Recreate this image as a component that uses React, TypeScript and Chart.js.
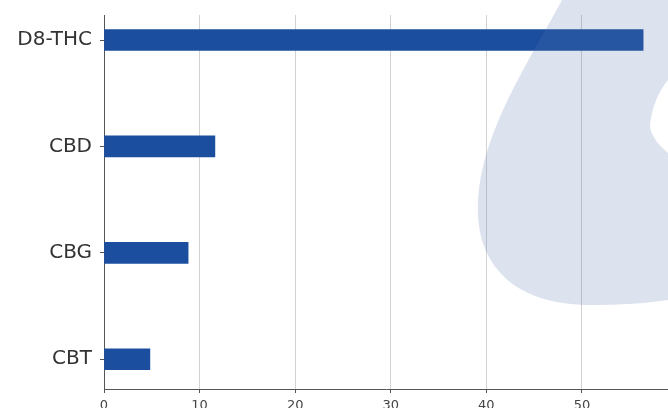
import React, { useEffect, useRef } from 'react';
import { Chart, registerables } from 'chart.js';

Chart.register(...registerables);

const categories: string[] = ['D8-THC', 'CBD', 'CBG', 'CBT'];
const values: number[] = [56.4, 11.6, 8.8, 4.8];
const xTickValues: number[] = [0, 10, 20, 30, 40, 50];
const xMin = 0;
const xMax = 59;

const watermark = {
  id: 'watermark',
  afterDraw(chart: any) {
    const ctx = chart.ctx;
    ctx.save();
    ctx.fillStyle = 'rgba(85, 115, 170, 0.2)';
    ctx.beginPath();
    ctx.moveTo(562, 0);
    ctx.bezierCurveTo(530, 60, 482, 130, 478, 200);
    ctx.bezierCurveTo(474, 270, 520, 305, 590, 305);
    ctx.bezierCurveTo(620, 305, 650, 303, 668, 300);
    ctx.lineTo(668, 153);
    ctx.bezierCurveTo(660, 146, 650, 136, 650, 125);
    ctx.bezierCurveTo(652, 105, 660, 90, 668, 80);
    ctx.lineTo(668, 0);
    ctx.closePath();
    ctx.fill();
    ctx.restore();
  },
};

export default function App() {
  const ref = useRef<HTMLCanvasElement | null>(null);

  useEffect(() => {
    if (!ref.current) return;
    const chart = new Chart(ref.current, {
      type: 'bar',
      data: {
        datasets: [
          {
            data: values.map((v, i) => ({ x: v, y: i })),
            backgroundColor: '#1b4e9f',
            borderWidth: 0,
            barThickness: 21,
          },
        ],
      },
      options: {
        indexAxis: 'y',
        animation: false,
        responsive: false,
        devicePixelRatio: 1,
        layout: { padding: { top: 15, right: 0, left: 0, bottom: 0 } },
        plugins: { legend: { display: false }, tooltip: { enabled: false } },
        scales: {
          x: {
            type: 'linear',
            min: xMin,
            max: xMax,
            offset: false,
            afterBuildTicks: (scale: any) => {
              scale.ticks = xTickValues.map((v) => ({ value: v }));
            },
            afterFit: (scale: any) => {
              scale.height = 19;
              scale.paddingLeft = 0;
              scale.paddingRight = 0;
            },
            grid: {
              display: true,
              offset: false,
              color: '#d2d2d2',
              lineWidth: 1,
              drawTicks: true,
              tickLength: 4,
              tickColor: '#555',
            },
            border: { display: true, color: '#555', width: 1 },
            ticks: {
              color: '#444',
              font: { family: 'DejaVu Sans', size: 13 },
              padding: 5,
              maxRotation: 0,
            },
          },
          y: {
            type: 'linear',
            reverse: true,
            min: -0.235,
            max: 3.28,
            offset: false,
            afterBuildTicks: (scale: any) => {
              scale.ticks = categories.map((_, i) => ({ value: i }));
            },
            afterFit: (scale: any) => {
              scale.width = 104;
              scale.paddingTop = 0;
              scale.paddingBottom = 0;
            },
            grid: {
              display: true,
              offset: false,
              drawOnChartArea: false,
              drawTicks: true,
              tickLength: 4,
              tickColor: '#555',
            },
            border: { display: true, color: '#555', width: 1 },
            ticks: {
              color: '#333',
              font: { family: 'DejaVu Sans', size: 20 },
              padding: 8,
              callback: (v: any) => categories[Math.round(Number(v))] ?? '',
            },
          },
        },
      },
      plugins: [watermark],
    } as any);
    return () => chart.destroy();
  }, []);

  return (
    <div style={{ position: 'absolute', left: 0, top: 0, width: 668, height: 408, background: '#fff' }}>
      <canvas ref={ref} width={668} height={408} />
    </div>
  );
}
